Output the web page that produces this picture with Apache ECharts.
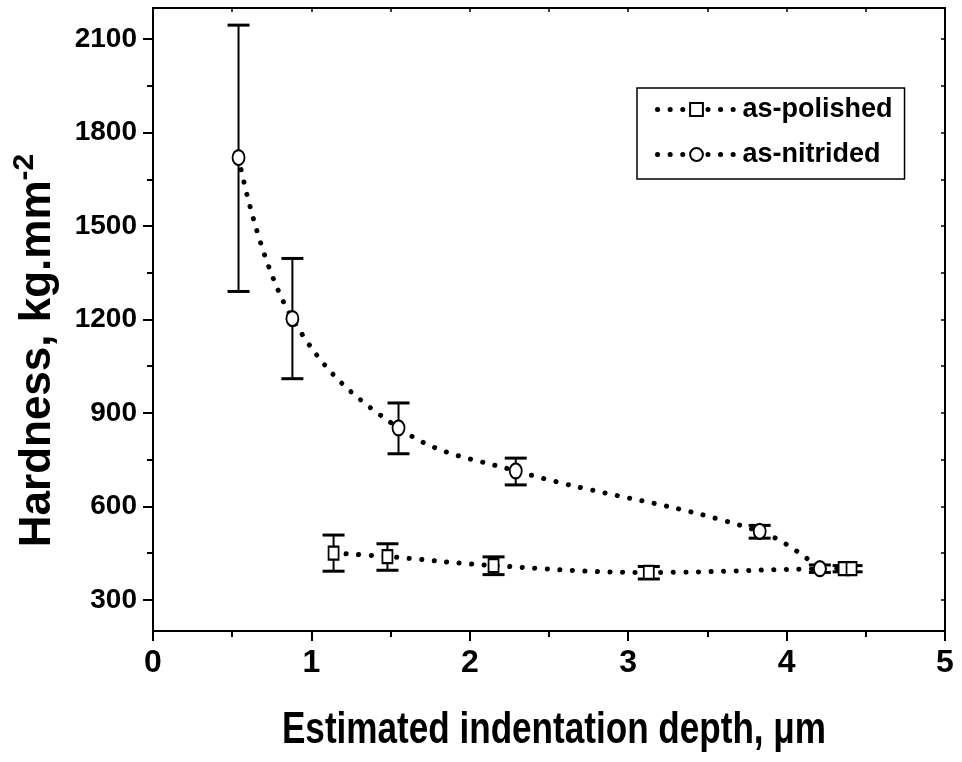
<!DOCTYPE html>
<html>
<head>
<meta charset="utf-8">
<script src="https://cdn.jsdelivr.net/npm/echarts@6/dist/echarts.min.js"></script>
<style>
  html, body { margin: 0; padding: 0; background: #fff; }
  #hardnessChart { width: 962px; height: 762px; }
</style>
</head>
<body>
<div id="hardnessChart"></div>
<script>
// depth in um, hardness in kg.mm-2, error bar ends
const polishedDepth = [1.14, 1.48, 2.15, 3.13, 4.36, 4.41]
const polishedHard = [450, 439, 410, 388, 400, 400]
const polishedLow = [392, 395, 381, 367, 390, 390]
const polishedHigh = [508, 480, 438, 407, 410, 410]

const nitridedDepth = [0.54, 0.88, 1.55, 2.29, 3.83, 4.21]
const nitridedHard = [1720, 1203, 852, 714, 520, 400]
const nitridedLow = [1290, 1010, 769, 669, 498, 388]
const nitridedHigh = [2145, 1396, 932, 755, 539, 412]

const seriesNames = ['as-polished', 'as-nitrided']
const yTickLabels = [300, 600, 900, 1200, 1500, 1800, 2100]
const yMinorTicks = [450, 750, 1050, 1350, 1650, 1950]
const yRightTicks = [300, 450, 600, 750, 900, 1050, 1200, 1350, 1500, 1650, 1800, 1950, 2100]

const font = '"Liberation Sans", Arial, sans-serif'

function zip (xs, ys) {
  return xs.map((x, i) => [x, ys[i]])
}

function errData (xs, lo, hi) {
  return xs.map((x, i) => [x, lo[i], hi[i]])
}

function renderErr (params, api) {
  const x = api.value(0)
  const lo = api.coord([x, api.value(1)])
  const hi = api.coord([x, api.value(2)])
  const w = 11
  const st = { stroke: '#000', lineWidth: 2 }
  const cap = { stroke: '#000', lineWidth: 3 }
  return {
    type: 'group',
    children: [
      { type: 'line', shape: { x1: lo[0], y1: lo[1], x2: hi[0], y2: hi[1] }, style: st },
      { type: 'line', shape: { x1: lo[0] - w, y1: lo[1], x2: lo[0] + w, y2: lo[1] }, style: cap },
      { type: 'line', shape: { x1: hi[0] - w, y1: hi[1], x2: hi[0] + w, y2: hi[1] }, style: cap }
    ]
  }
}

const chart = echarts.init(document.getElementById('hardnessChart'))

const dotted = { color: '#000', width: 5, type: [0.1, 12.5], cap: 'round' }

const option = {
  backgroundColor: '#fff',
  animation: false,
  grid: { left: 153, right: 17, top: 8, bottom: 131, outerBoundsMode: 'none' },
  legend: {
    data: seriesNames,
    orient: 'vertical',
    left: 637,
    top: 88,
    itemWidth: 78,
    itemHeight: 16,
    itemGap: 18,
    padding: [8, 12, 11, 18],
    borderColor: '#000',
    borderWidth: 1.5,
    lineStyle: dotted,
    textStyle: { fontFamily: font, fontWeight: 'bold', fontSize: 27, color: '#000', padding: [0, 0, 0, 2] }
  },
  // x axis title, squeezed like the original lettering
  graphic: [{
    type: 'text',
    x: 554,
    y: 731,
    scaleX: 0.78,
    style: {
      text: 'Estimated indentation depth, μm',
      fontFamily: font,
      fontWeight: 'bold',
      fontSize: 45,
      fill: '#000',
      textAlign: 'center',
      textVerticalAlign: 'middle'
    }
  }],
  xAxis: [{
    type: 'value',
    min: 0,
    max: 5,
    interval: 1,
    axisLine: { lineStyle: { color: '#000', width: 2 } },
    axisTick: { length: 10, lineStyle: { width: 2 } },
    minorTick: { show: true, splitNumber: 2, length: 6, lineStyle: { color: '#000', width: 2 } },
    axisLabel: { margin: 16, fontFamily: font, fontWeight: 'bold', fontSize: 32, color: '#000' },
    splitLine: { show: false }
  }, {
    type: 'value',
    position: 'top',
    min: 0,
    max: 5,
    interval: 0.5,
    axisLine: { lineStyle: { color: '#000', width: 2 } },
    axisTick: { inside: true, length: 4, lineStyle: { width: 1.5 } },
    axisLabel: { show: false },
    splitLine: { show: false }
  }],
  yAxis: [{
    type: 'value',
    min: 200,
    max: 2200,
    name: '{a|Hardness, kg.mm}{b|-2}',
    nameLocation: 'middle',
    nameGap: 87,
    nameTextStyle: {
      padding: [0, 62, 0, 0],
      rich: {
        a: { fontFamily: font, fontWeight: 'bold', fontSize: 44, color: '#000' },
        b: { fontFamily: font, fontWeight: 'bold', fontSize: 30, color: '#000', padding: [0, 0, 26, 0] }
      }
    },
    axisLine: { lineStyle: { color: '#000', width: 2 } },
    axisTick: { length: 10, lineStyle: { width: 2 }, customValues: yTickLabels },
    axisLabel: {
      margin: 16,
      fontFamily: font,
      fontWeight: 'bold',
      fontSize: 28,
      color: '#000',
      customValues: yTickLabels,
      formatter: v => String(v)
    },
    splitLine: { show: false }
  }, {
    type: 'value',
    position: 'left',
    min: 200,
    max: 2200,
    axisLine: { show: false },
    axisTick: { length: 6, lineStyle: { color: '#000', width: 2 }, customValues: yMinorTicks },
    axisLabel: { show: false },
    splitLine: { show: false }
  }, {
    type: 'value',
    position: 'right',
    min: 200,
    max: 2200,
    axisLine: { lineStyle: { color: '#000', width: 2 } },
    axisTick: { inside: true, length: 4, lineStyle: { width: 1.5 }, customValues: yRightTicks },
    axisLabel: { show: false },
    splitLine: { show: false }
  }],
  series: [{
    type: 'custom',
    renderItem: renderErr,
    encode: { x: 0, y: [1, 2] },
    data: errData(polishedDepth, polishedLow, polishedHigh),
    z: 1
  }, {
    type: 'custom',
    renderItem: renderErr,
    encode: { x: 0, y: [1, 2] },
    data: errData(nitridedDepth, nitridedLow, nitridedHigh),
    z: 1
  }, {
    name: seriesNames[0],
    type: 'line',
    smooth: 0.4,
    symbol: 'emptyRect',
    symbolSize: [10, 13],
    itemStyle: { color: '#000', borderWidth: 2 },
    lineStyle: dotted,
    data: zip(polishedDepth, polishedHard),
    z: 3
  }, {
    name: seriesNames[1],
    type: 'line',
    smooth: 0.4,
    symbol: 'emptyCircle',
    symbolSize: [12, 15],
    itemStyle: { color: '#000', borderWidth: 2 },
    lineStyle: dotted,
    data: zip(nitridedDepth, nitridedHard),
    z: 3
  }]
}

chart.setOption(option)
</script>
</body>
</html>
